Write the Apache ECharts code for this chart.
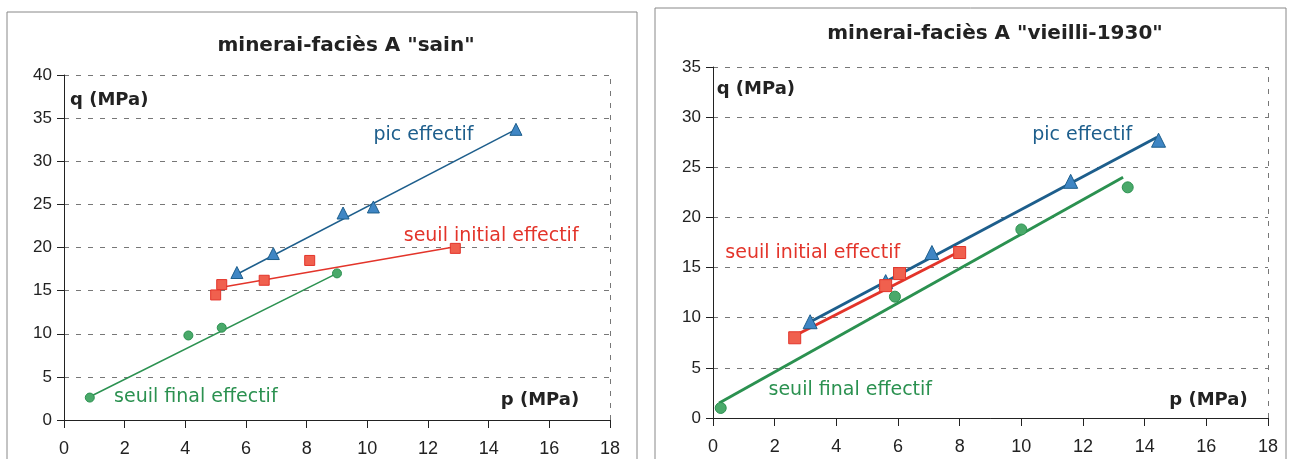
<!DOCTYPE html>
<html>
<head>
<meta charset="utf-8">
<script src="https://cdn.jsdelivr.net/npm/echarts@6/dist/echarts.min.js"></script>
<style>
  html, body { margin: 0; padding: 0; background: #fff; }
  #chart { width: 1290px; height: 459px; }
</style>
</head>
<body>
<div id="chart"></div>
<script>
// --- data: [p, q] in MPa ---
const titles = ['minerai-faciès A "sain"', 'minerai-faciès A "vieilli-1930"'];

// chart 1 : "sain"
const sainPic = [[5.7, 17.1], [6.9, 19.3], [9.2, 24.0], [10.2, 24.7], [14.9, 33.7]];
const sainPicFit = [[5.7, 16.9], [14.9, 33.7]];
const sainInit = [[5.0, 14.5], [5.2, 15.7], [6.6, 16.2], [8.1, 18.5], [12.9, 19.9]];
const sainInitFit = [[5.2, 15.4], [12.9, 20.1]];
const sainFinal = [[0.85, 2.6], [4.1, 9.8], [5.2, 10.7], [9.0, 17.0]];
const sainFinalFit = [[0.85, 2.7], [9.0, 17.0]];

// chart 2 : "vieilli-1930"
const vieilPic = [[3.15, 9.6], [5.6, 13.6], [7.1, 16.5], [11.6, 23.6], [14.45, 27.7]];
const vieilPicFit = [[3.1, 9.5], [14.4, 28.0]];
const vieilInit = [[2.65, 8.0], [5.6, 13.2], [6.05, 14.4], [8.0, 16.5]];
const vieilInitFit = [[2.65, 8.2], [8.0, 16.6]];
const vieilFinal = [[0.25, 1.0], [5.9, 12.1], [10.0, 18.8], [13.45, 23.0]];
const vieilFinalFit = [[0.2, 1.5], [13.3, 24.0]];

// text annotations placed in data space: [p, q, text, colour]
const sainNotes = [
    [0.2, 37.1, 'q (MPa)', '#222'],
    [14.4, 2.3, 'p (MPa)', '#222'],
    [10.2, 33.0, 'pic effectif', '#1d5e8c'],
    [11.2, 21.3, 'seuil initial effectif', '#e3342a'],
    [1.65, 2.7, 'seuil final effectif', '#2b9150']
];
const vieilNotes = [
    [0.12, 32.8, 'q (MPa)', '#222'],
    [14.8, 1.8, 'p (MPa)', '#222'],
    [10.35, 28.2, 'pic effectif', '#1d5e8c'],
    [0.4, 16.4, 'seuil initial effectif', '#e3342a'],
    [1.8, 2.8, 'seuil final effectif', '#2b9150']
];

const BLUE = '#1d5e8c', BLUE_FILL = '#3f86c4';
const RED = '#e3342a', RED_FILL = '#f0604e';
const GREEN = '#2b9150', GREEN_FILL = '#4aa96a';

const axisFont = 'Liberation Sans, Arial, sans-serif';

const makeX = function (gridIndex) {
    return {
        type: 'value', gridIndex: gridIndex, min: 0, max: 18, interval: 2,
        axisLine: { onZero: false, lineStyle: { color: '#222', width: 1 } },
        axisTick: { length: 8, lineStyle: { color: '#222' } },
        axisLabel: { color: '#222', fontSize: 18, fontFamily: axisFont, margin: 20 },
        splitLine: { show: false }
    };
};

const makeY = function (gridIndex, max) {
    return {
        type: 'value', gridIndex: gridIndex, min: 0, max: max, interval: 5,
        axisLine: { show: true, onZero: false, lineStyle: { color: '#222', width: 1 } },
        axisTick: { show: true, length: 7, lineStyle: { color: '#222' } },
        axisLabel: { color: '#222', fontSize: 17, fontFamily: axisFont, margin: 12 },
        splitLine: { show: true, lineStyle: { color: '#777', type: [5, 7], width: 1 } }
    };
};

const fitLine = function (data, color, width, idx) {
    return {
        type: 'line', data: data, xAxisIndex: idx, yAxisIndex: idx,
        symbol: 'none', silent: true, z: 2,
        lineStyle: { color: color, width: width }
    };
};

const points = function (data, symbol, size, fill, border, idx) {
    return {
        type: 'scatter', data: data, xAxisIndex: idx, yAxisIndex: idx,
        symbol: symbol, symbolSize: size, z: 3,
        itemStyle: { color: fill, borderColor: border, borderWidth: 1, opacity: 1 }
    };
};

const notes = function (data, idx) {
    return {
        type: 'scatter', xAxisIndex: idx, yAxisIndex: idx, symbolSize: 0, silent: true, z: 4,
        itemStyle: { opacity: 1 },
        data: data.map(n => {
            const isAxis = n[2].indexOf('MPa') >= 0;
            return {
                value: [n[0], n[1]],
                label: {
                    show: true, position: 'right', distance: 0, formatter: n[2],
                    color: n[3], fontSize: isAxis ? 18 : 19,
                    fontWeight: isAxis ? 'bold' : 'normal',
                    fontFamily: 'DejaVu Sans, sans-serif'
                }
            };
        })
    };
};

const rightEdge = function (idx) {
    return {
        type: 'line', data: [], xAxisIndex: idx, yAxisIndex: idx,
        markLine: {
            silent: true, symbol: 'none', label: { show: false },
            lineStyle: { color: '#777', type: [5, 7], width: 1 },
            data: [{ xAxis: 18 }]
        }
    };
};

const chart = echarts.init(document.getElementById('chart'));

chart.setOption({
    animation: false,
    backgroundColor: '#fff',
    title: [
        {
            text: titles[0], left: 341, top: 31, textAlign: 'center',
            textStyle: { fontFamily: 'DejaVu Sans, sans-serif', fontWeight: 'bold', fontSize: 20, color: '#222' }
        },
        {
            text: titles[1], left: 990, top: 19, textAlign: 'center',
            textStyle: { fontFamily: 'DejaVu Sans, sans-serif', fontWeight: 'bold', fontSize: 20, color: '#222' }
        }
    ],
    grid: [
        { left: 64, right: 680, top: 75, bottom: 39 },
        { left: 713, right: 22, top: 67, bottom: 41 }
    ],
    xAxis: [makeX(0), makeX(1)],
    yAxis: [makeY(0, 40), makeY(1, 35)],
    graphic: [
        { type: 'rect', shape: { x: 7, y: 12, width: 630, height: 470 }, style: { fill: 'none', stroke: '#888', lineWidth: 1 } },
        { type: 'rect', shape: { x: 655, y: 8, width: 631, height: 470 }, style: { fill: 'none', stroke: '#888', lineWidth: 1 } }
    ],
    series: [
        rightEdge(0),
        fitLine(sainPicFit, BLUE, 1.5, 0),
        fitLine(sainInitFit, RED, 1.5, 0),
        fitLine(sainFinalFit, GREEN, 1.5, 0),
        points(sainPic, 'triangle', 12, BLUE_FILL, BLUE, 0),
        points(sainInit, 'rect', 10, RED_FILL, RED, 0),
        points(sainFinal, 'circle', 9, GREEN_FILL, GREEN, 0),
        notes(sainNotes, 0),

        rightEdge(1),
        fitLine(vieilPicFit, BLUE, 3, 1),
        fitLine(vieilInitFit, RED, 3, 1),
        fitLine(vieilFinalFit, GREEN, 3, 1),
        points(vieilPic, 'triangle', 14, BLUE_FILL, BLUE, 1),
        points(vieilInit, 'rect', 12, RED_FILL, RED, 1),
        points(vieilFinal, 'circle', 11, GREEN_FILL, GREEN, 1),
        notes(vieilNotes, 1)
    ]
});
</script>
</body>
</html>
